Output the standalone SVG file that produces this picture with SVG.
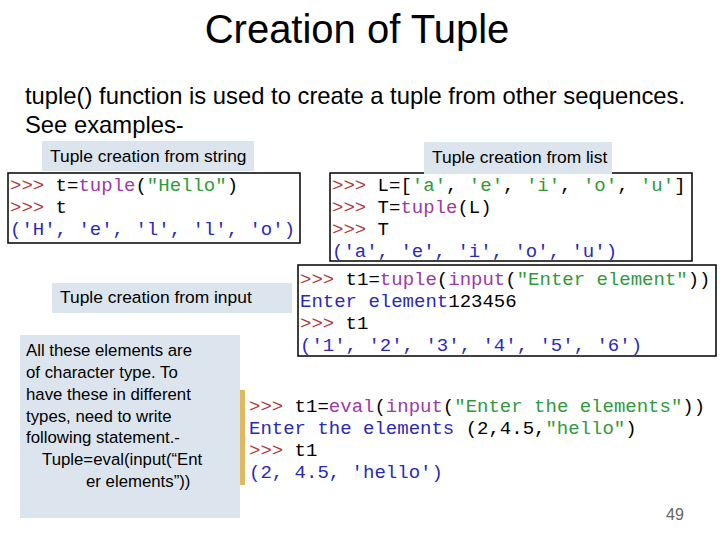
<svg xmlns="http://www.w3.org/2000/svg" width="720" height="540" viewBox="0 0 720 540">
<style>
.t{font-family:"Liberation Sans",Arial,sans-serif;fill:#000}
.c{font-family:"Liberation Mono","Courier New",monospace;font-size:19px;fill:#000;white-space:pre}
.p{fill:#b03a3a}.b{fill:#9a3aa6}.s{fill:#2f9a3a}.o{fill:#2a2ab8}
.lbl{fill:#dce5ee}
.box{fill:#fff;stroke:#000;stroke-width:1.5}
</style>
<rect width="720" height="540" fill="#fff"/>
<text class="t" x="357" y="43" font-size="40" text-anchor="middle">Creation of Tuple</text>
<text class="t" x="25" y="104" font-size="23.8">tuple() function is used to create a tuple from other sequences.</text>
<text class="t" x="25" y="133" font-size="23.8">See examples-</text>

<g id="string">
<rect class="lbl" x="42" y="141" width="212" height="30"/>
<text class="t" x="50" y="162" font-size="17.4">Tuple creation from string</text>
<rect class="box" x="8" y="173" width="292" height="70"/>
<text class="c" x="10" y="191"><tspan class="p">&gt;&gt;&gt;</tspan> t=<tspan class="b">tuple</tspan>(<tspan class="s">"Hello"</tspan>)</text>
<text class="c" x="10" y="213"><tspan class="p">&gt;&gt;&gt;</tspan> t</text>
<text class="c o" x="10" y="235">('H', 'e', 'l', 'l', 'o')</text>
</g>

<g id="list">
<rect class="box" x="330" y="173" width="362" height="88"/>
<rect class="lbl" x="424" y="142" width="188" height="32"/>
<text class="t" x="432" y="163" font-size="17.4">Tuple creation from list</text>
<text class="c" x="332" y="191"><tspan class="p">&gt;&gt;&gt;</tspan> L=[<tspan class="s">'a'</tspan>, <tspan class="s">'e'</tspan>, <tspan class="s">'i'</tspan>, <tspan class="s">'o'</tspan>, <tspan class="s">'u'</tspan>]</text>
<text class="c" x="332" y="213"><tspan class="p">&gt;&gt;&gt;</tspan> T=<tspan class="b">tuple</tspan>(L)</text>
<text class="c" x="332" y="235"><tspan class="p">&gt;&gt;&gt;</tspan> T</text>
<text class="c o" x="332" y="257">('a', 'e', 'i', 'o', 'u')</text>
</g>

<g id="input">
<rect class="lbl" x="52" y="283" width="240" height="30"/>
<text class="t" x="60" y="303" font-size="17.4">Tuple creation from input</text>
<rect class="box" x="298" y="265" width="418" height="91"/>
<text class="c" x="300" y="285"><tspan class="p">&gt;&gt;&gt;</tspan> t1=<tspan class="b">tuple</tspan>(<tspan class="b">input</tspan>(<tspan class="s">"Enter element"</tspan>))</text>
<text class="c" x="300" y="307"><tspan class="o">Enter element</tspan>123456</text>
<text class="c" x="300" y="329"><tspan class="p">&gt;&gt;&gt;</tspan> t1</text>
<text class="c o" x="300" y="351">('1', '2', '3', '4', '5', '6')</text>
</g>

<g id="note">
<rect class="lbl" x="20" y="335" width="220" height="183"/>
<text class="t" font-size="16.8">
<tspan x="26" y="356">All these elements are</tspan>
<tspan x="26" y="378">of  character type. To</tspan>
<tspan x="26" y="400">have  these in different</tspan>
<tspan x="26" y="422">types,  need to write</tspan>
<tspan x="26" y="443">following  statement.-</tspan>
<tspan x="42" y="465">Tuple=eval(input(“Ent</tspan>
<tspan x="86" y="487">er  elements”))</tspan>
</text>
</g>

<g id="eval">
<rect x="240" y="390" width="5" height="95" fill="#e0b860"/>
<text class="c" x="249" y="412"><tspan class="p">&gt;&gt;&gt;</tspan> t1=<tspan class="b">eval</tspan>(<tspan class="b">input</tspan>(<tspan class="s">"Enter the elements"</tspan>))</text>
<text class="c" x="249" y="434"><tspan class="o">Enter the elements</tspan> (2,4.5,<tspan class="s">"hello"</tspan>)</text>
<text class="c" x="249" y="456"><tspan class="p">&gt;&gt;&gt;</tspan> t1</text>
<text class="c o" x="249" y="478">(2, 4.5, 'hello')</text>
</g>

<g id="connectors"></g>
<text class="t" x="675" y="520" font-size="16" text-anchor="middle" style="fill:#666">49</text>
</svg>
